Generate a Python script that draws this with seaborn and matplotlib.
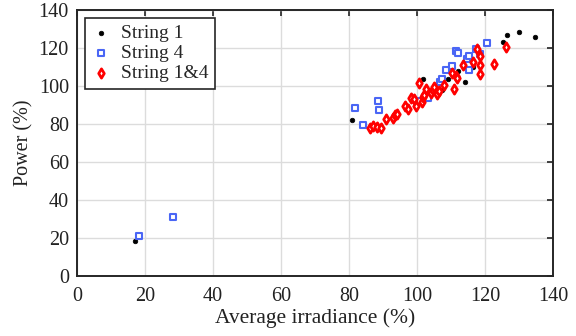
import matplotlib
matplotlib.use("Agg")
import matplotlib.pyplot as plt
import seaborn as sns
import pandas as pd

# Measured power vs. average irradiance for each string configuration
s1_irr = [17.1, 80.9, 101.9, 107.4, 109.1, 112.2, 114.1, 116.6, 125.4, 126.6, 130.1, 134.6]
s1_pow = [18.6, 82.1, 103.9, 97.9, 103.9, 107.9, 101.9, 110.2, 123.3, 126.8, 128.6, 126.0]

s4_irr = [18.2, 28.2, 81.8, 84.2, 88.4, 88.8, 100.8, 103.1, 106.8, 107.4, 108.4, 110.2,
          111.6, 112.1, 114.8, 115.3, 115.4, 117.4, 118.5, 120.6]
s4_pow = [20.9, 31.2, 88.2, 79.3, 92.3, 87.6, 92.0, 93.9, 101.9, 103.5, 108.6, 110.5,
          118.2, 117.6, 114.0, 115.8, 108.2, 119.4, 116.7, 122.8]

s14_irr = [86.2, 86.9, 88.1, 89.3, 91.0, 93.0, 93.6, 94.0, 96.6, 97.2, 98.3, 99.1, 99.7,
           100.7, 101.6, 101.9, 102.1, 102.6, 104.2, 104.6, 105.1, 106.0, 106.5, 107.8,
           110.2, 110.9, 111.4, 111.9, 113.6, 116.4, 117.6, 118.5, 118.4, 118.5, 122.6, 126.2]
s14_pow = [77.7, 78.9, 78.6, 78.1, 82.6, 83.3, 84.8, 85.5, 89.6, 87.9, 93.5, 93.0, 89.3,
           101.4, 91.7, 94.4, 95.3, 98.6, 96.5, 98.0, 99.6, 96.0, 97.5, 100.5,
           107.0, 98.3, 105.2, 104.4, 110.9, 112.5, 119.3, 115.7, 111.1, 106.3, 111.6, 120.7]

x_ticks = [0, 20, 40, 60, 80, 100, 120, 140]
y_ticks = [0, 20, 40, 60, 80, 100, 120, 140]

sns.set_theme(style="whitegrid")
plt.rcParams["font.family"] = ["Liberation Serif", "DejaVu Serif"]

FS = 14.5

fig = plt.figure(figsize=(5.76, 3.36), dpi=100)
ax = fig.add_axes([0.134, 0.179, 0.826, 0.791])

df1 = pd.DataFrame({"irr": s1_irr, "pow": s1_pow})
df4 = pd.DataFrame({"irr": s4_irr, "pow": s4_pow})
df14 = pd.DataFrame({"irr": s14_irr, "pow": s14_pow})

sns.scatterplot(data=df1, x="irr", y="pow", ax=ax, marker="o", s=11,
                color="black", edgecolor="black", linewidth=0.5, label="String 1", zorder=3)
sns.scatterplot(data=df4, x="irr", y="pow", ax=ax, marker="s", s=19,
                facecolor="white", edgecolor="#4a66f5", linewidth=1.5, label="String 4", zorder=3)
sns.scatterplot(data=df14, x="irr", y="pow", ax=ax, marker="d", s=22,
                facecolor="white", edgecolor="#ff0000", linewidth=2.0, label="String 1&4", zorder=3)

ax.set_xlim(0, 140)
ax.set_ylim(0, 140)
ax.set_xticks(x_ticks)
ax.set_yticks(y_ticks)
ax.set_xlabel("Average irradiance (%)", fontsize=15.5, color="#222222", labelpad=2)
ax.set_ylabel("Power (%)", fontsize=FS, color="#222222", labelpad=4)
ax.tick_params(axis="both", labelsize=FS, colors="#222222", direction="in",
               length=4, width=1.2, top=True, right=True, pad=6)
ax.tick_params(axis="x", pad=8)

ax.grid(True, color="#dcdcdc", linewidth=1.0)
for sp in ax.spines.values():
    sp.set_visible(True)
    sp.set_color("#262626")
    sp.set_linewidth(1.4)

leg = ax.legend(loc="upper left", fontsize=14, frameon=True, fancybox=False,
                edgecolor="#262626", framealpha=1, borderpad=0.35, labelspacing=0.12,
                handletextpad=0.5, handlelength=1.0, borderaxespad=0.4)
leg.get_frame().set_linewidth(1.2)

fig.savefig("out.png", dpi=100)
